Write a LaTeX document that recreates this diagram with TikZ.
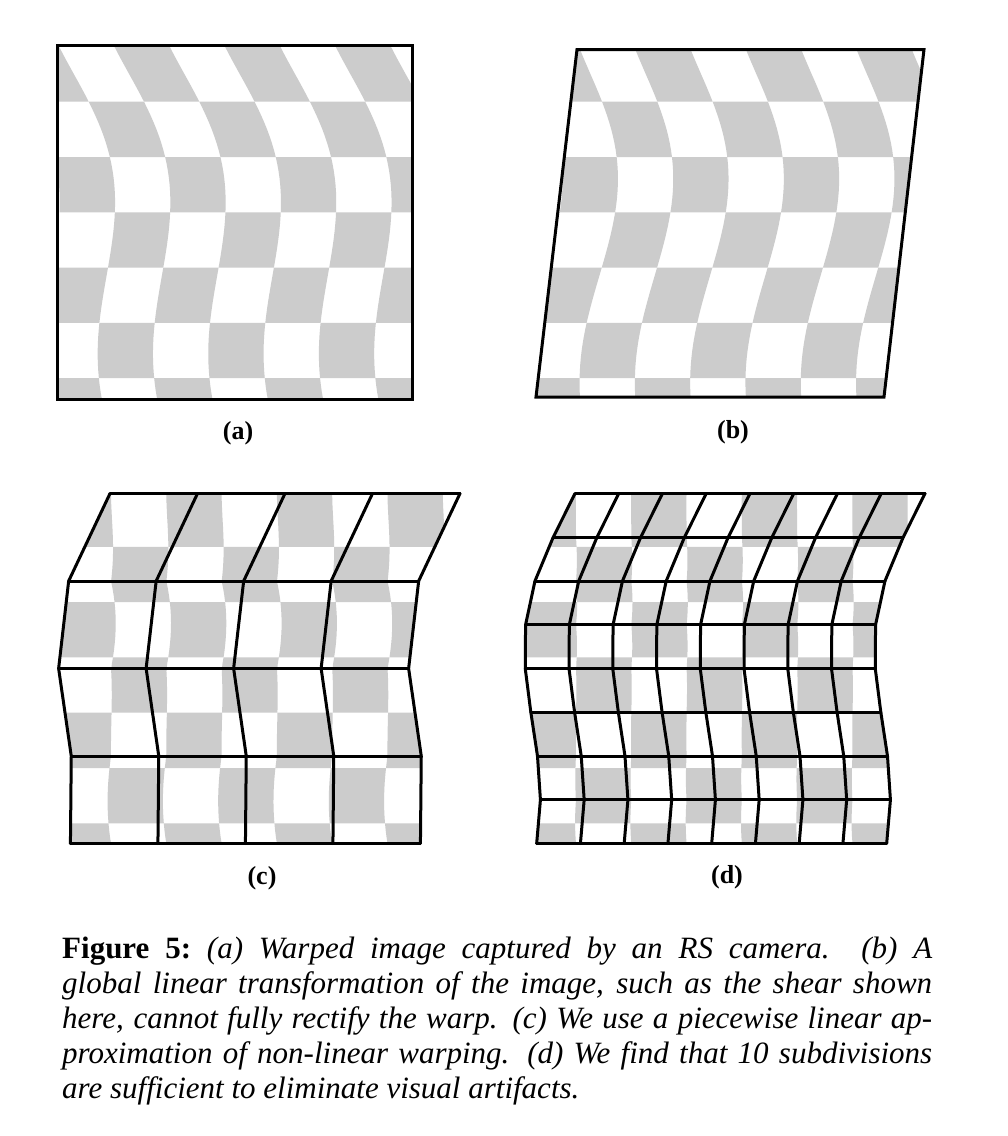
\documentclass[tikz,border=0pt]{standalone}
\usepackage{fontspec}
\setmainfont{Liberation Serif}
\definecolor{checkgray}{gray}{0.8}
\tikzset{
  warpcell/.style={fill=checkgray},
  frameline/.style={draw=black, line width=3pt},
  meshline/.style={draw=black, line width=3pt, line join=round, line cap=round},
  panellabel/.style={font=\fontsize{26}{31}\selectfont\bfseries, inner sep=0pt},
}
% size of one checker cell, and the row of the first mesh node (in cells)
\newcommand\cs{55.3}
\newcommand\tzero{0.0362}

% gray cells of the warped board: #1 = left edge of the image as a
% function of the row coordinate \x, #2 = y of the board's first row,
% #3 = strength of the warp
\newcommand\warpcells[3]{%
  \foreach \row in {0,...,6}{
    \pgfmathtruncatemacro\rownext{\row+1}
    \foreach \col in {-1,...,6}{
      \pgfmathtruncatemacro\cellpar{mod(\row+\col+10,2)}
      \ifnum\cellpar=1
        \fill[warpcell] plot[variable=\x, domain=\row:\rownext, samples=9]
            ({#1+\cs*(#3*gw(\x)+\col)}, {#2+\cs*\x})
          -- plot[variable=\x, domain=\rownext:\row, samples=9]
            ({#1+\cs*(#3*gw(\x)+\col+1)}, {#2+\cs*\x}) -- cycle;
      \fi
    }
  }%
}

\begin{document}
\begin{tikzpicture}[x=1pt, y=-1pt,
  declare function={
    gw(\x)=0.537*\x-0.09133*\x*(\x-1)-0.009225*\x*(\x-1)*(\x-2.5)
      +0.006212*\x*(\x-1)*(\x-2.5)*(\x-4)
      -0.0009155*\x*(\x-1)*(\x-2.5)*(\x-4)*(\x-5.5);
    sj(\x,\w,\z)=min(max(floor((\x-\tzero)/\w),0),\z-1);
    gl(\x,\y,\w)=gw(\y)+(gw(\y+\w)-gw(\y))*(\x-\y)/\w;
    gpl(\x,\w,\z)=gl(\x,\tzero+\w*sj(\x,\w,\z),\w);
  }]
\path[fill=white, use as bounding box] (0,0) rectangle (1008,1136);

% (a) warped image
\coordinate (a-tl) at (57.5,45);
\coordinate (a-br) at (412,399.5);
\begin{scope}
  \clip (a-tl) rectangle (a-br);
  \warpcells{59}{46.4}{1}
\end{scope}
\draw[frameline] (a-tl) rectangle (a-br);
\node[panellabel] (lab-a) at (238,433) {(a)};

% (b) global shear
\coordinate (b-tl) at (577,49.5);
\coordinate (b-tr) at (924,49.5);
\coordinate (b-br) at (884,397);
\coordinate (b-bl) at (536,397);
\begin{scope}
  \clip (b-tl) -- (b-tr) -- (b-br) -- (b-bl) -- cycle;
  \warpcells{537.5+0.118*(350.6-\cs*\x)}{46.4}{1}
\end{scope}
\draw[frameline, line join=miter] (b-tl) -- (b-tr) -- (b-br) -- (b-bl) -- cycle;
\node[panellabel] (lab-b) at (733,432) {(b)};

% (c) piecewise linear, 4 strips
\foreach \j in {0,...,4}{
  \pgfmathsetmacro\tj{\tzero+\j*1.5823}
  \pgfmathsetmacro\ej{110-0.95*\cs*(gw(\tj)-gw(\tzero))}
  \foreach \i in {0,...,4}
    \coordinate (c-\j-\i) at ({\ej+\i*87.5}, {491.5+\cs*\tj});
}
\begin{scope}
  \clip (c-0-0) \foreach \j in {0,...,4}{ -- (c-\j-4)}
    \foreach \j in {4,3,...,0}{ -- (c-\j-0)} -- cycle;
  \warpcells{110-0.95*\cs*(gpl(\x,1.5823,4)-gw(\tzero))}{491.5}{0.95}
\end{scope}
\foreach \j in {0,...,4}
  \draw[meshline] (c-\j-0) -- (c-\j-4);
\foreach \i in {0,...,4}
  \draw[meshline] (c-0-\i) \foreach \j in {1,...,4}{ -- (c-\j-\i)};
\node[panellabel] (lab-c) at (262,878) {(c)};

% (d) piecewise linear, 8 strips
\foreach \j in {0,...,8}{
  \pgfmathsetmacro\tj{\tzero+\j*0.79114}
  \pgfmathsetmacro\ej{575-0.92*\cs*(gw(\tj)-gw(\tzero))}
  \foreach \i in {0,...,8}
    \coordinate (d-\j-\i) at ({\ej+\i*43.75}, {491.5+\cs*\tj});
}
\begin{scope}
  \clip (d-0-0) \foreach \j in {0,...,8}{ -- (d-\j-8)}
    \foreach \j in {8,7,...,0}{ -- (d-\j-0)} -- cycle;
  \warpcells{575-0.92*\cs*(gpl(\x,0.79114,8)-gw(\tzero))}{491.5}{0.92}
\end{scope}
\foreach \j in {0,...,8}
  \draw[meshline] (d-\j-0) -- (d-\j-8);
\foreach \i in {0,...,8}
  \draw[meshline] (d-0-\i) \foreach \j in {1,...,8}{ -- (d-\j-\i)};
\node[panellabel] (lab-d) at (727,877) {(d)};

% caption
\node[anchor=north west, inner sep=0pt, text width=870pt, align=justify,
  font=\fontsize{31}{35}\selectfont] (caption) at (62,937)
  {{\bfseries Figure 5:}\ \itshape (a) Warped image captured by an RS camera.\ \ (b) A\linebreak
   global linear transformation of the image, such as the shear shown\linebreak
   here, cannot fully rectify the warp. (c) We use a piecewise linear ap-\linebreak
   proximation of non-linear warping. (d) We find that 10 subdivisions\linebreak
   are sufficient to eliminate visual artifacts.};
\end{tikzpicture}
\end{document}
